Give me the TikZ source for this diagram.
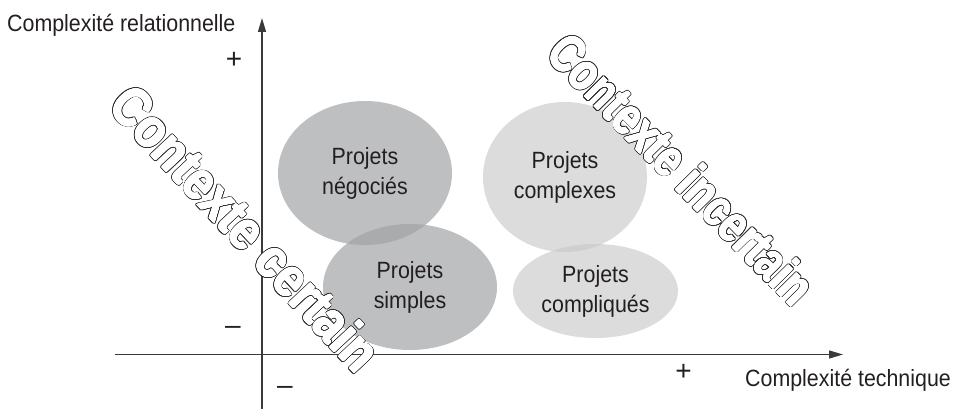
\documentclass[tikz,border=0pt]{standalone}
\usepackage{fontspec}
\setmainfont{Liberation Sans}
\usetikzlibrary{arrows.meta,shapes.geometric}
\definecolor{axisc}{HTML}{3A3A3A}
\definecolor{txtc}{HTML}{231F20}
\definecolor{darkell}{HTML}{BEBFC1}
\definecolor{darkov}{HTML}{AAABAD}
\definecolor{lightell}{HTML}{DCDCDD}
\definecolor{lightov}{HTML}{CFCFD0}
\definecolor{outc}{HTML}{303030}
\newcommand\nx[1]{\scalebox{0.91}[1]{#1}}
\newcommand\ctxA{\resizebox{366pt}{40pt}{Contexte certain}}
\newcommand\ctxB{\resizebox{354pt}{38pt}{Contexte incertain}}
\begin{document}
\begin{tikzpicture}[x=1pt,y=-1pt,
  lbl/.style={font=\fontsize{23.5}{30}\selectfont, text=txtc, inner sep=0pt, align=center},
  ell/.style={ellipse, draw=none, inner sep=0pt, lbl},
  sign/.style={font=\fontsize{28}{28}\selectfont, text=txtc, inner sep=0pt},
  axis/.style={draw=axisc, line width=1.3pt, -{Triangle[length=14pt,width=8pt]}},
  ctx/.style={font=\bfseries\fontsize{40}{40}\selectfont, inner sep=0pt}]
\useasboundingbox (0,0) rectangle (956,409);

% ellipses
\node[ell, fill=darkell, minimum width=174pt, minimum height=144pt] (neg) at (365,173) {\nx{Projets}\\\nx{négociés}};
\node[ell, fill=darkell, minimum width=174pt, minimum height=126pt] (simp) at (410,287) {\nx{Projets}\\\nx{simples}};
\node[ell, fill=lightell, minimum width=164pt, minimum height=150pt] (cplx) at (565,177) {\nx{Projets}\\\nx{complexes}};
\node[ell, fill=lightell, minimum width=165pt, minimum height=94pt] (cpli) at (595.5,291) {\nx{Projets}\\\nx{compliqués}};

% overlaps
\begin{scope}
  \clip (365,173) ellipse [x radius=87, y radius=72];
  \fill[darkov] (410,287) ellipse [x radius=87, y radius=63];
\end{scope}
\begin{scope}
  \clip (565,177) ellipse [x radius=82, y radius=75];
  \fill[lightov] (595.5,291) ellipse [x radius=82.5, y radius=47];
\end{scope}

% axes
\coordinate (xs) at (115,354.5);
\coordinate (xe) at (843,354.5);
\coordinate (ys) at (262,409);
\coordinate (ye) at (262,18);
\draw[axis] (xs) -- (xe);
\draw[axis] (ys) -- (ye);

% axis labels
\node[lbl, anchor=base west] (yl) at (7,31.5) {\nx{Complexité relationnelle}};
\node[lbl, anchor=base west] (xl) at (745,386.7) {\nx{Complexité technique}};
\node[sign] (yp) at (234,60.5) {+};
\node[sign] (ym) at (233,330) {–};
\node[sign] (xm) at (285,390) {–};
\node[sign] (xp) at (683.5,372) {+};

% outlined diagonal texts (dark halo, then slightly thickened white glyphs)
\foreach \a in {0,15,...,345}{
  \begin{scope}[shift={(\a:1.3pt)}]
    \node[ctx, text=outc, rotate=-47] at (246,228) {\ctxA};
    \node[ctx, text=outc, rotate=-45.5] at (682,169) {\ctxB};
  \end{scope}}
\foreach \a in {0,30,...,330}{
  \begin{scope}[shift={(\a:0.45pt)}]
    \node[ctx, text=white, rotate=-47] at (246,228) {\ctxA};
    \node[ctx, text=white, rotate=-45.5] at (682,169) {\ctxB};
  \end{scope}}
\node[ctx, text=white, rotate=-47] (cc) at (246,228) {\ctxA};
\node[ctx, text=white, rotate=-45.5] (ci) at (682,169) {\ctxB};
\end{tikzpicture}
\end{document}
